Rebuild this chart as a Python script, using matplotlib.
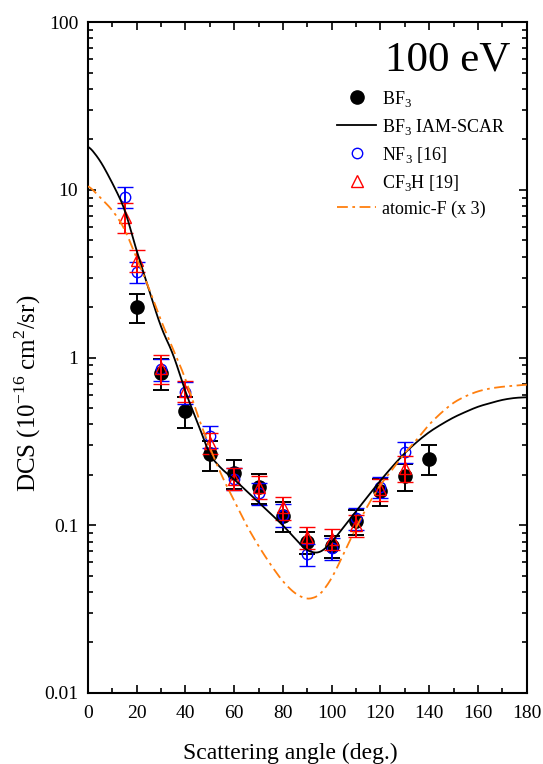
import numpy as np
import matplotlib
matplotlib.use("Agg")
import matplotlib.pyplot as plt
from matplotlib.lines import Line2D
from matplotlib.ticker import MultipleLocator, LogLocator, NullFormatter, FixedLocator, FixedFormatter

plt.rcParams['font.family'] = ['Liberation Serif', 'DejaVu Serif']
plt.rcParams['mathtext.fontset'] = 'custom'
plt.rcParams['mathtext.rm'] = 'Liberation Serif'

# ---------- DATA ----------
# BF3 measured DCS
bf3_ang = [20, 30, 40, 50, 60, 70, 80, 90, 100, 110, 120, 130, 140]
bf3_dcs = [2.0, 0.81, 0.48, 0.265, 0.205, 0.168, 0.114, 0.079, 0.075, 0.106, 0.16, 0.196, 0.25]
bf3_err = [0.40, 0.17, 0.10, 0.053, 0.041, 0.034, 0.023, 0.012, 0.011, 0.018, 0.029, 0.037, 0.05]

# NF3 [16]
nf3_ang = [15, 20, 30, 40, 50, 60, 70, 80, 90, 100, 110, 120, 130]
nf3_dcs = [9.1, 3.25, 0.85, 0.62, 0.34, 0.19, 0.155, 0.115, 0.067, 0.073, 0.11, 0.17, 0.275]
nf3_err = [1.3, 0.45, 0.13, 0.09, 0.05, 0.028, 0.023, 0.018, 0.010, 0.011, 0.016, 0.025, 0.04]

# CF3H [19]
cf3h_ang = [15, 20, 30, 40, 50, 60, 70, 80, 90, 100, 110, 120, 130]
cf3h_dcs = [6.9, 3.8, 0.87, 0.63, 0.31, 0.19, 0.17, 0.128, 0.085, 0.083, 0.10, 0.165, 0.22]
cf3h_err = [1.4, 0.55, 0.17, 0.09, 0.045, 0.028, 0.026, 0.02, 0.013, 0.012, 0.015, 0.025, 0.04]

# IAM-SCAR and atomic-F curves
curve_ang = list(range(0, 181, 5))
iam_dcs = [18.5, 15.0, 11.0, 7.8, 4.3, 2.55, 1.5, 1.05, 0.62, 0.41, 0.26, 0.215, 0.188,
           0.16, 0.137, 0.117, 0.10, 0.083, 0.07, 0.068, 0.079, 0.098, 0.121, 0.15,
           0.185, 0.225, 0.27, 0.315, 0.36, 0.40, 0.44, 0.475, 0.51, 0.535, 0.56, 0.575, 0.58]
atf_dcs = [10.7, 9.0, 7.6, 5.9, 3.9, 2.6, 1.65, 1.12, 0.75, 0.45, 0.29, 0.195, 0.14,
           0.1, 0.075, 0.058, 0.046, 0.039, 0.036, 0.038, 0.048, 0.068, 0.097, 0.133,
           0.175, 0.216, 0.27, 0.325, 0.40, 0.47, 0.54, 0.59, 0.63, 0.655, 0.67, 0.68, 0.69]

# ---------- PLOT ----------
fig = plt.figure(figsize=(5.43, 7.64), dpi=100)
ax = fig.add_axes([0.162, 0.093, 0.808, 0.878])

# smooth curves through the read points (log space)
xs = np.linspace(0, 180, 361)
iam_s = np.exp(np.interp(xs, curve_ang, np.log(iam_dcs)))
atf_s = np.exp(np.interp(xs, curve_ang, np.log(atf_dcs)))
k = np.ones(9) / 9
def smooth(y):
    ly = np.log(y)
    pad = np.concatenate([np.full(4, ly[0]), ly, np.full(4, ly[-1])])
    return np.exp(np.convolve(pad, k, mode='valid'))

ORANGE = '#ff7f0e'
eb = dict(capsize=6, elinewidth=1.4, capthick=1.4)
ax.errorbar(bf3_ang, bf3_dcs, yerr=bf3_err, fmt='o', color='black', ms=9.5, zorder=3, **eb)
ax.errorbar(nf3_ang, nf3_dcs, yerr=nf3_err, fmt='o', mfc='none', mec='blue', color='blue',
            ms=7.5, mew=1.0, zorder=4, **eb)
ax.errorbar(cf3h_ang, cf3h_dcs, yerr=cf3h_err, fmt='^', mfc='none', mec='red', color='red',
            ms=8.5, mew=1.0, zorder=5, **eb)
ax.plot(xs, smooth(iam_s), color='black', lw=1.3, zorder=6)
ax.plot(xs, smooth(atf_s), color=ORANGE, lw=1.3, dashes=[6, 2.5, 1.5, 2.5], zorder=6)

ax.set_yscale('log')
ax.set_xlim(0, 180)
ax.set_ylim(0.01, 100)
ax.xaxis.set_major_locator(MultipleLocator(20))
ax.xaxis.set_minor_locator(MultipleLocator(10))
ax.yaxis.set_major_locator(FixedLocator([0.01, 0.1, 1, 10, 100]))
ax.yaxis.set_major_formatter(FixedFormatter(['0.01', '0.1', '1', '10', '100']))
ax.yaxis.set_minor_locator(LogLocator(base=10, subs=np.arange(2, 10)))
ax.yaxis.set_minor_formatter(NullFormatter())
ax.tick_params(which='both', direction='in', top=True, right=True, labelsize=14, width=1.2)
ax.tick_params(which='major', length=6)
ax.tick_params(which='minor', length=3.5)
ax.tick_params(axis='x', which='major', pad=9)
ax.tick_params(axis='y', which='major', pad=7)
for s in ax.spines.values():
    s.set_linewidth(1.5)

ax.set_xlabel('Scattering angle (deg.)', fontsize=17)
ax.xaxis.set_label_coords(0.462, -0.0745)
ax.set_ylabel(r'DCS (10$^{-16}$ cm$^{2}$/sr)', fontsize=18)
ax.yaxis.set_label_coords(-0.1025, 0.447)

ax.text(0.962, 0.972, '100 eV', transform=ax.transAxes, ha='right', va='top', fontsize=31)

handles = [
    Line2D([], [], ls='none', marker='o', color='black', ms=9.5),
    Line2D([], [], color='black', lw=1.3),
    Line2D([], [], ls='none', marker='o', mfc='none', mec='blue', ms=7.5),
    Line2D([], [], ls='none', marker='^', mfc='none', mec='red', ms=8.5),
    Line2D([], [], color=ORANGE, lw=1.3, dashes=[6, 2.5, 1.5, 2.5]),
]
labels = [r'BF$_3$', r'BF$_3$ IAM-SCAR', r'NF$_3$ [16]', r'CF$_3$H [19]', 'atomic-F (x 3)']
ax.legend(handles, labels, loc='upper left', bbox_to_anchor=(0.53, 0.925), frameon=False,
          fontsize=13, handlelength=2.2, labelspacing=0.44, handletextpad=0.3)

fig.savefig('out.png', dpi=100)
